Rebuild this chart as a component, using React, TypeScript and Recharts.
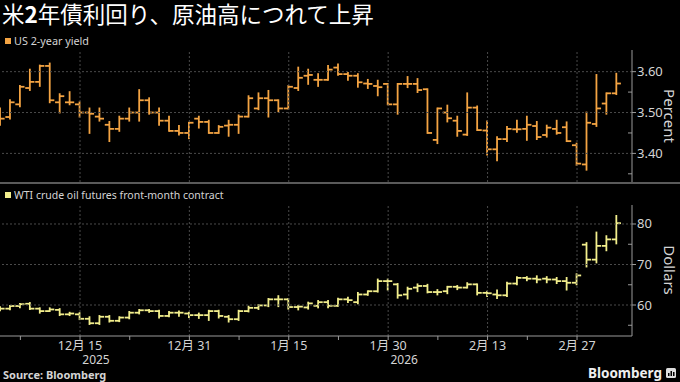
import React from 'react';
import { ComposedChart, Bar, XAxis, YAxis, ReferenceLine } from 'recharts';

// trading days shown on the chart
const dates = [
  '12/3', '12/4', '12/5', '12/8', '12/9', '12/10', '12/11', '12/12', '12/15', '12/16',
  '12/17', '12/18', '12/19', '12/22', '12/23', '12/24', '12/26', '12/29', '12/30', '12/31',
  '1/2', '1/5', '1/6', '1/7', '1/8', '1/9', '1/12', '1/13', '1/14', '1/15',
  '1/16', '1/20', '1/21', '1/22', '1/23', '1/26', '1/27', '1/28', '1/29', '1/30',
  '2/2', '2/3', '2/4', '2/5', '2/6', '2/9', '2/10', '2/11', '2/12', '2/13',
  '2/17', '2/18', '2/19', '2/20', '2/23', '2/24', '2/25', '2/26', '2/27', '3/2',
  '3/3', '3/4', '3/5',
];

// US 2-year yield, percent
const yieldOpen = [
  3.49, 3.489, 3.52, 3.56, 3.575, 3.614, 3.525, 3.525, 3.52, 3.5,
  3.49, 3.47, 3.46, 3.485, 3.5, 3.53, 3.5, 3.48, 3.455, 3.45,
  3.485, 3.477, 3.45, 3.468, 3.47, 3.49, 3.51, 3.535, 3.53, 3.51,
  3.56, 3.59, 3.58, 3.58, 3.61, 3.594, 3.59, 3.571, 3.565, 3.57,
  3.52, 3.57, 3.57, 3.557, 3.433, 3.5, 3.48, 3.446, 3.512, 3.456,
  3.41, 3.435, 3.459, 3.46, 3.467, 3.445, 3.46, 3.464, 3.42, 3.373,
  3.472, 3.522, 3.547,
];
const yieldHigh = [
  3.51, 3.53, 3.565, 3.605, 3.615, 3.62, 3.545, 3.55, 3.525, 3.51,
  3.51, 3.477, 3.49, 3.51, 3.555, 3.535, 3.51, 3.49, 3.467, 3.475,
  3.49, 3.48, 3.467, 3.48, 3.493, 3.54, 3.547, 3.553, 3.53, 3.565,
  3.61, 3.605, 3.594, 3.614, 3.618, 3.597, 3.594, 3.58, 3.578, 3.57,
  3.57, 3.587, 3.582, 3.557, 3.51, 3.517, 3.49, 3.547, 3.515, 3.478,
  3.44, 3.465, 3.48, 3.49, 3.477, 3.468, 3.48, 3.476, 3.424, 3.5,
  3.592, 3.547, 3.595,
];
const yieldLow = [
  3.47, 3.485, 3.515, 3.555, 3.565, 3.525, 3.5, 3.52, 3.49, 3.45,
  3.48, 3.43, 3.455, 3.48, 3.48, 3.497, 3.47, 3.455, 3.446, 3.437,
  3.463, 3.45, 3.45, 3.443, 3.45, 3.49, 3.508, 3.49, 3.503, 3.51,
  3.555, 3.57, 3.565, 3.58, 3.592, 3.58, 3.563, 3.56, 3.542, 3.52,
  3.497, 3.562, 3.55, 3.45, 3.425, 3.478, 3.443, 3.445, 3.457, 3.397,
  3.383, 3.43, 3.453, 3.433, 3.435, 3.441, 3.448, 3.43, 3.372, 3.36,
  3.467, 3.497, 3.545,
];
const yieldClose = [
  3.485, 3.525, 3.563, 3.575, 3.614, 3.53, 3.54, 3.525, 3.5, 3.497,
  3.485, 3.46, 3.485, 3.5, 3.53, 3.5, 3.48, 3.455, 3.45, 3.475,
  3.477, 3.45, 3.465, 3.47, 3.49, 3.535, 3.535, 3.53, 3.51, 3.563,
  3.585, 3.592, 3.58, 3.605, 3.594, 3.59, 3.574, 3.57, 3.562, 3.52,
  3.57, 3.57, 3.555, 3.45, 3.51, 3.486, 3.455, 3.512, 3.457, 3.41,
  3.435, 3.46, 3.459, 3.47, 3.44, 3.463, 3.45, 3.43, 3.375, 3.475,
  3.51, 3.547, 3.571,
];

// WTI crude oil futures front-month, dollars
const oilOpen = [
  58.9, 59.1, 59.75, 60.3, 59.1, 58.5, 58.8, 57.7, 57.7, 56.6,
  55.5, 57.1, 56.1, 56.9, 58.1, 58.7, 58.5, 57.3, 58.1, 57.9,
  57.5, 57.5, 58.5, 57.1, 56.5, 58.5, 59.3, 59.9, 61.4, 61.4,
  59.5, 59.4, 59.8, 60.7, 59.8, 61.4, 60.7, 62.6, 63.4, 65.9,
  65.1, 62.6, 64.3, 64.7, 63.2, 63.4, 64.5, 64.3, 65.1, 63.0,
  62.6, 62.4, 65.3, 66.7, 66.5, 66.5, 66.3, 65.9, 65.5, 74.9,
  71.2, 74.6, 76.2,
];
const oilHigh = [
  59.5, 59.8, 60.3, 60.5, 59.2, 59.2, 59.0, 58.1, 58.0, 57.0,
  57.3, 57.3, 57.0, 58.3, 58.8, 58.8, 58.6, 58.3, 58.4, 58.1,
  57.9, 58.6, 58.6, 57.3, 58.6, 59.6, 60.0, 61.5, 62.2, 61.5,
  59.8, 60.6, 61.0, 61.0, 61.6, 61.8, 63.0, 63.4, 66.3, 66.3,
  65.2, 64.3, 65.1, 65.0, 63.7, 64.5, 64.7, 65.4, 65.1, 63.3,
  63.6, 65.5, 66.9, 66.9, 67.1, 66.9, 66.7, 66.7, 67.6, 75.3,
  77.9, 77.0, 82.0,
];
const oilLow = [
  58.7, 58.9, 59.4, 59.0, 58.1, 58.5, 57.5, 57.5, 56.5, 55.3,
  55.3, 55.9, 56.0, 56.7, 57.9, 58.3, 56.9, 57.2, 57.3, 57.0,
  56.8, 56.3, 56.9, 55.9, 56.3, 58.4, 59.0, 59.7, 59.7, 59.1,
  58.9, 59.1, 59.4, 59.4, 59.8, 60.7, 60.4, 62.5, 63.3, 63.8,
  61.8, 61.6, 63.4, 63.1, 62.6, 62.9, 63.9, 64.3, 62.6, 62.2,
  61.7, 62.2, 65.1, 66.1, 65.6, 65.6, 65.4, 63.8, 65.1, 69.5,
  70.5, 73.5, 75.2,
];
const oilClose = [
  59.1, 59.75, 60.2, 59.1, 58.5, 58.9, 57.7, 57.9, 56.6, 55.5,
  57.1, 56.1, 56.9, 58.1, 58.7, 58.5, 57.3, 58.1, 58.1, 57.5,
  57.5, 58.5, 57.3, 56.5, 58.5, 59.3, 59.9, 61.4, 61.4, 59.5,
  59.6, 60.4, 60.7, 59.8, 61.4, 61.2, 62.6, 63.4, 65.9, 65.9,
  62.4, 64.0, 64.7, 63.2, 63.2, 64.5, 64.3, 65.1, 63.0, 62.9,
  62.4, 65.3, 66.7, 66.5, 66.3, 66.3, 65.9, 65.5, 67.3, 71.2,
  74.6, 76.2, 80.2,
];

const majorTickDates = ['12/15', '12/31', '1/15', '1/30', '2/13', '2/27'];
const majorTickLabels = ['12月 15', '12月 31', '1月 15', '1月 30', '2月 13', '2月 27'];
const yearLabels = ['2025', '', '', '2026', '', ''];
const minorTickDates = ['12/5', '12/22', '1/8', '1/23', '2/6', '2/20'];

const yieldTicks = [3.4, 3.5, 3.6];
const yieldMinorTicks = [3.35, 3.45, 3.55];
const oilTicks = [60, 70, 80];
const oilMinorTicks = [55, 65, 75];

const ORANGE = '#f4a443';
const YELLOW = '#f2ee8c';
const GRID = '#4a4a4a';
const AXIS = '#9a9a9a';
const TEXT = '#d4d4d4';
const FONT = '"Noto Sans", "Noto Sans CJK JP", sans-serif';
const X_DOMAIN = [-0.05, 63.53];

const yieldData = dates.map((d, i) => ({
  i, date: d, range: [yieldLow[i], yieldHigh[i]], o: yieldOpen[i], c: yieldClose[i],
}));
const oilData = dates.map((d, i) => ({
  i, date: d, range: [oilLow[i], oilHigh[i]], o: oilOpen[i], c: oilClose[i],
}));

const majorIdx = majorTickDates.map((d) => dates.indexOf(d));
const minorIdx = minorTickDates.map((d) => dates.indexOf(d));

// open tick left, close tick right, high-low stem
const OhlcShape = (props: any) => {
  const { x, y, width, height, payload, fill } = props;
  if (!payload) return null;
  const cx = x + width / 2;
  const [lo, hi] = payload.range;
  const top = Math.min(y, y + height);
  const bottom = Math.max(y, y + height);
  const span = hi - lo;
  const py = (v: number) => (span > 0 ? top + ((hi - v) / span) * (bottom - top) : top);
  return (
    <g stroke={fill} strokeWidth={1.8}>
      <line x1={cx} x2={cx} y1={top - 0.9} y2={bottom + 0.9} />
      <line x1={cx - 4.6} x2={cx} y1={py(payload.o)} y2={py(payload.o)} />
      <line x1={cx} x2={cx + 4.6} y1={py(payload.c)} y2={py(payload.c)} />
    </g>
  );
};

const makeYTick = (majors: number[], fmt: (v: number) => string) => (props: any) => {
  const { x, y, payload } = props;
  const major = majors.includes(payload.value);
  if (!major) {
    return <line x1={x - 4} x2={x} y1={y} y2={y} stroke={AXIS} strokeWidth={1} />;
  }
  return (
    <g>
      <line x1={x} x2={x + 4} y1={y} y2={y} stroke={AXIS} strokeWidth={1} />
      <text x={x + 5} y={y} dy={4.5} fill={TEXT} fontSize={13} fontFamily={FONT}>
        {fmt(payload.value)}
      </text>
    </g>
  );
};

const XTick = (props: any) => {
  const { x, y, payload } = props;
  const k = majorIdx.indexOf(payload.value);
  if (k < 0) {
    return <line x1={x} x2={x} y1={y} y2={y + 4} stroke={AXIS} strokeWidth={1} />;
  }
  return (
    <g>
      <line x1={x} x2={x} y1={y} y2={y + 4} stroke={AXIS} strokeWidth={1} />
      <text x={x} y={y + 13.5} textAnchor="middle" fill={TEXT} fontSize={12.5} fontFamily={FONT}>
        {majorTickLabels[k]}
      </text>
      {yearLabels[k] && (
        <text x={x + 16} y={y + 28} textAnchor="middle" fill={TEXT} fontSize={12} fontFamily={FONT}>
          {yearLabels[k]}
        </text>
      )}
    </g>
  );
};

const YieldTick = makeYTick(yieldTicks, (v) => v.toFixed(2));
const OilTick = makeYTick(oilTicks, (v) => String(v));

const App: React.FC = () => {
  return (
    <div style={{ position: 'fixed', left: 0, top: 0, width: 680, height: 382, background: '#000', overflow: 'hidden' }}>
      <svg width={680} height={382} style={{ position: 'absolute', left: 0, top: 0 }}>
        <text x={2} y={22.5} fill="#fff" fontSize={22.5} fontFamily='"Noto Sans CJK JP", sans-serif'>
          米<tspan fontWeight={700}>2</tspan>年債利回り、原油高につれて上昇
        </text>
        <rect x={5} y={38} width={6} height={6} fill={ORANGE} />
        <text x={14} y={45} fill={TEXT} fontSize={10.8} fontFamily={FONT}>US 2-year yield</text>
        <rect x={5} y={192} width={6} height={6} fill={YELLOW} />
        <text x={14} y={199} fill={TEXT} fontSize={10.5} fontFamily={FONT}>WTI crude oil futures front-month contract</text>
        <text x={670} y={116} fill={TEXT} fontSize={15} fontFamily={FONT} textAnchor="middle"
          dominantBaseline="central" transform="rotate(90 670 116)">Percent</text>
        <text x={670} y={270} fill={TEXT} fontSize={15} fontFamily={FONT} textAnchor="middle"
          dominantBaseline="central" transform="rotate(90 670 270)">Dollars</text>
        <rect x={0} y={182} width={680} height={2} fill="#5a5a5a" />
        <text x={3} y={379} fill={TEXT} fontSize={11} fontWeight={700} fontFamily={FONT}>Source: Bloomberg</text>
        <text x={662} y={378} fill="#eee" fontSize={13.5} fontWeight={700} fontFamily={FONT} textAnchor="end">Bloomberg</text>
        <rect x={666} y={368} width={10} height={10} rx={1.5} fill="#ddd" />
        <rect x={668} y={373} width={1.5} height={3} fill="#000" />
        <rect x={670.5} y={371} width={1.5} height={5} fill="#000" />
        <rect x={673} y={372} width={1.5} height={4} fill="#000" />
      </svg>

      <div style={{ position: 'absolute', left: 0, top: 50 }}>
        <ComposedChart width={680} height={132} data={yieldData} margin={{ top: 0, right: 0, bottom: 0, left: 0 }}>
          <XAxis dataKey="i" type="number" domain={X_DOMAIN} allowDataOverflow hide />
          <YAxis
            orientation="right"
            type="number"
            domain={[3.33, 3.653]}
            allowDataOverflow
            width={48}
            ticks={[...yieldMinorTicks, ...yieldTicks]}
            interval={0}
            tickSize={0}
            tickMargin={0}
            tickLine={false}
            axisLine={{ stroke: AXIS }}
            tick={<YieldTick />}
          />
          {yieldTicks.map((v) => (
            <ReferenceLine key={v} y={v} stroke={GRID} strokeDasharray="2 2" />
          ))}
          {majorIdx.map((v) => (
            <ReferenceLine key={v} x={v} stroke={GRID} strokeDasharray="2 2" />
          ))}
          <Bar dataKey="range" fill={ORANGE} barSize={9} shape={<OhlcShape />} isAnimationActive={false} />
        </ComposedChart>
      </div>

      <div style={{ position: 'absolute', left: 0, top: 205 }}>
        <ComposedChart width={680} height={177} data={oilData} margin={{ top: 0, right: 0, bottom: 0, left: 0 }}>
          <XAxis
            dataKey="i"
            type="number"
            domain={X_DOMAIN}
            allowDataOverflow
            height={46}
            ticks={[...minorIdx, ...majorIdx]}
            interval={0}
            tickSize={0}
            tickMargin={0}
            tickLine={false}
            axisLine={{ stroke: AXIS }}
            tick={<XTick />}
          />
          <YAxis
            orientation="right"
            type="number"
            domain={[52.35, 84.69]}
            allowDataOverflow
            width={48}
            ticks={[...oilMinorTicks, ...oilTicks]}
            interval={0}
            tickSize={0}
            tickMargin={0}
            tickLine={false}
            axisLine={{ stroke: AXIS }}
            tick={<OilTick />}
          />
          {oilTicks.map((v) => (
            <ReferenceLine key={v} y={v} stroke={GRID} strokeDasharray="2 2" />
          ))}
          {majorIdx.map((v) => (
            <ReferenceLine key={v} x={v} stroke={GRID} strokeDasharray="2 2" />
          ))}
          <Bar dataKey="range" fill={YELLOW} barSize={9} shape={<OhlcShape />} isAnimationActive={false} />
        </ComposedChart>
      </div>
    </div>
  );
};

export default App;
